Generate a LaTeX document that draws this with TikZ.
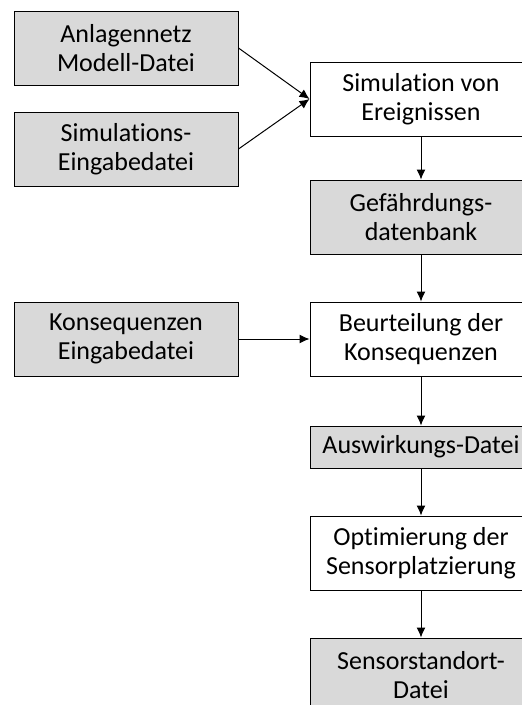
\documentclass[tikz,border=0pt]{standalone}
\usepackage{fontspec}
\setmainfont[Ligatures=NoCommon]{Carlito}
\usepackage{tikz}
\usetikzlibrary{arrows.meta}
\usepackage{xcolor}
\definecolor{dateigrau}{RGB}{217,217,217}
\tikzstyle{box}=[draw, line width=1pt, align=center, inner sep=0pt, font=\fontsize{26}{29}\selectfont]
\tikzstyle{datei}=[box, fill=dateigrau]
\tikzstyle{schritt}=[box, fill=white]
\tikzstyle{pfeil}=[-{Latex[length=10pt,width=9pt]}, line width=1pt]
\newcommand{\datei}{\node[datei]}
\newcommand{\schritt}{\node[schritt]}

\begin{document}
\begin{tikzpicture}[x=1pt,y=-1pt]
\useasboundingbox (0,0) rectangle (522,705);
\tikzstyle{links}=[minimum width=224pt, minimum height=74pt]
\tikzstyle{rechts}=[minimum width=222pt, minimum height=74pt]
\datei[links] (anlage) at (126,48) {Anlagennetz\\Modell-Datei};
\datei[links] (simein) at (126,149) {Simulations-\\Eingabedatei};
\datei[links] (konsein) at (126,339) {Konsequenzen\\Eingabedatei};
\schritt[rechts] (sim) at (421,99) {Simulation von\\Ereignissen};
\datei[rechts] (gef) at (421,217) {Gefährdungs-\\datenbank};
\schritt[rechts] (beurt) at (421,339) {Beurteilung der\\Konsequenzen};
\datei[rechts, minimum height=42pt] (ausw) at (421,447) {Auswirkungs-Datei};
\schritt[rechts] (opt) at (421,553) {Optimierung der\\Sensorplatzierung};
\datei[rechts] (sens) at (421,675) {Sensorstandort-\\Datei};
\draw[pfeil] (anlage.east) -- (sim.west);
\draw[pfeil] (simein.east) -- (sim.west);
\draw[pfeil] (konsein) -- (beurt);
\draw[pfeil] (sim) -- (gef);
\draw[pfeil] (gef) -- (beurt);
\draw[pfeil] (beurt) -- (ausw);
\draw[pfeil] (ausw) -- (opt);
\draw[pfeil] (opt) -- (sens);
\end{tikzpicture}
\end{document}
